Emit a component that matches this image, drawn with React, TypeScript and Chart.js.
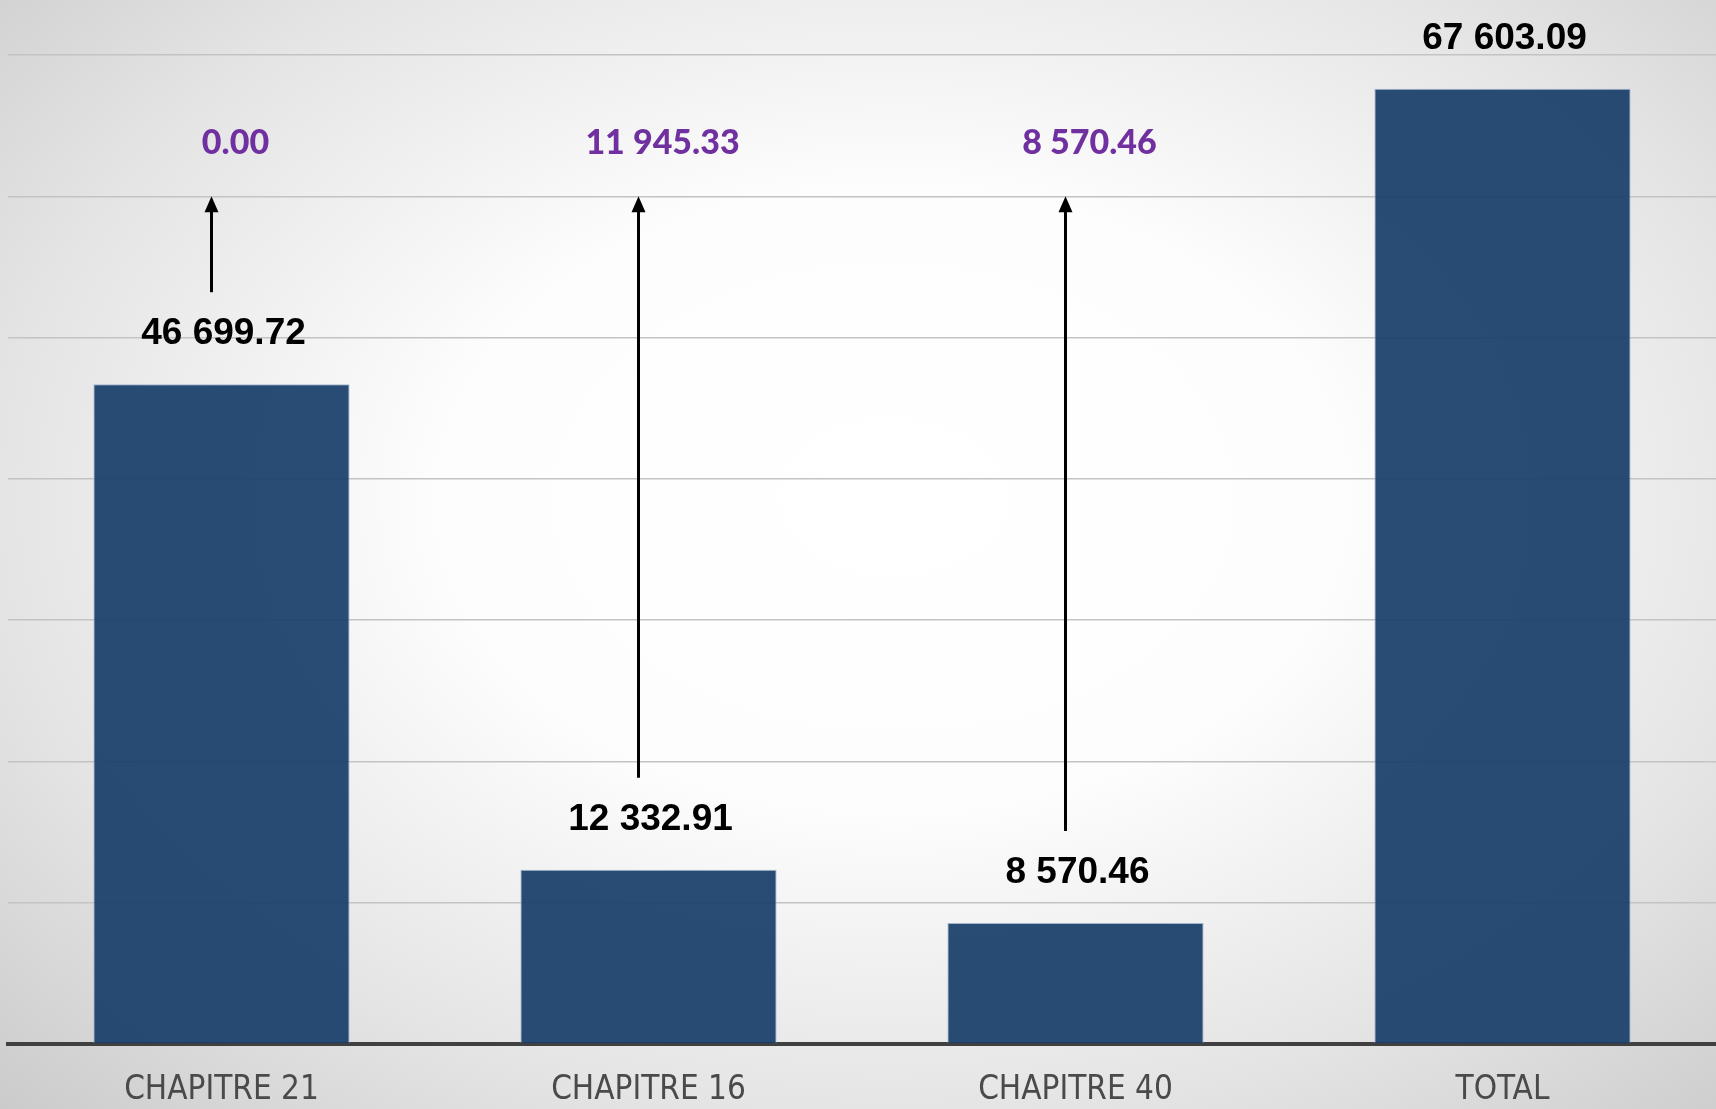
import React, { useEffect, useRef } from 'react';
import { Chart, registerables } from 'chart.js';

Chart.register(...registerables);

// ---- Data ----
const categories: string[] = ['CHAPITRE 21', 'CHAPITRE 16', 'CHAPITRE 40', 'TOTAL'];
const barValues: number[] = [46699.72, 12332.91, 8570.46, 67603.09];
const addedValues: (number | null)[] = [0.0, 11945.33, 8570.46, null];
const yTickValues: number[] = [0, 10000, 20000, 30000, 40000, 50000, 60000, 70000];

// arrow tips point at this value level; purple labels sit at this level
const ARROW_TOP_VALUE = 60000;
const ADDED_LABEL_VALUE = 63000;

function fmt(v: number): string {
  const [i, d] = v.toFixed(2).split('.');
  return i.replace(/\B(?=(\d{3})+(?!\d))/g, ' ') + '.' + d;
}

const annotatePlugin = {
  id: 'annotate',
  afterDatasetsDraw(chart: any) {
    const ctx = chart.ctx as CanvasRenderingContext2D;
    const meta = chart.getDatasetMeta(0);
    const yScale = chart.scales.y;
    ctx.save();
    meta.data.forEach((bar: any, i: number) => {
      const top = bar.y;
      ctx.textAlign = 'center';
      ctx.textBaseline = 'alphabetic';
      ctx.font = 'bold 37px "Liberation Sans", Arial, sans-serif';
      ctx.fillStyle = '#000000';
      ctx.fillText(fmt(barValues[i]), bar.x + 2, top - 40);

      const add = addedValues[i];
      if (add === null || add === undefined) return;
      const ax = bar.x - 10;
      const yTip = yScale.getPixelForValue(ARROW_TOP_VALUE);
      const yBot = top - 92;
      ctx.strokeStyle = '#000000';
      ctx.lineWidth = 3;
      ctx.beginPath();
      ctx.moveTo(ax, yBot);
      ctx.lineTo(ax, yTip + 12);
      ctx.stroke();
      ctx.beginPath();
      ctx.moveTo(ax, yTip);
      ctx.lineTo(ax - 7, yTip + 16);
      ctx.lineTo(ax + 7, yTip + 16);
      ctx.closePath();
      ctx.fill();

      ctx.font = '900 34px Lato, "Open Sans", sans-serif';
      ctx.fillStyle = '#7030a0';
      ctx.fillText(fmt(add), bar.x + 14, yScale.getPixelForValue(ADDED_LABEL_VALUE));
    });
    ctx.restore();
  },
};

export default function App() {
  const ref = useRef<HTMLCanvasElement | null>(null);

  useEffect(() => {
    if (!ref.current) return;
    const chart = new Chart(ref.current, {
      type: 'bar',
      data: {
        labels: categories,
        datasets: [
          {
            data: barValues,
            backgroundColor: 'rgba(25,62,107,0.93)',
            borderColor: 'rgba(150,172,200,0.85)',
            borderWidth: 1,
            barPercentage: 0.6,
            categoryPercentage: 1.0,
          },
        ],
      },
      options: {
        responsive: false,
        animation: false,
        layout: { padding: { left: 8, top: 55, right: 0, bottom: 0 } },
        plugins: {
          legend: { display: false },
          tooltip: { enabled: false },
        },
        scales: {
          x: {
            grid: { display: false, drawTicks: false },
            border: { display: true, color: '#404040', width: 4 },
            ticks: {
              color: '#4a4a4a',
              padding: 27,
              font: { family: '"Liberation Sans Narrow", "DejaVu Sans Condensed", Arial, sans-serif', size: 33 },
            },
            afterFit: (s: any) => {
              s.height = 65;
            },
          },
          y: {
            min: yTickValues[0],
            max: yTickValues[yTickValues.length - 1],
            afterBuildTicks: (s: any) => {
              s.ticks = yTickValues.map((v) => ({ value: v }));
            },
            ticks: { display: false },
            grid: { color: '#c3c3c3', lineWidth: 1.5, drawTicks: false },
            border: { display: false },
            afterFit: (s: any) => {
              s.width = 0;
            },
          },
        },
      },
      plugins: [annotatePlugin],
    });
    return () => chart.destroy();
  }, []);

  return (
    <div
      style={{
        position: 'absolute',
        left: 0,
        top: 0,
        width: 1716,
        height: 1109,
        background:
          'radial-gradient(ellipse 75% 80% at 52% 45%, #ffffff 0%, #fdfdfd 35%, #e4e4e4 70%, #c9c9c9 100%)',
      }}
    >
      <canvas ref={ref} width={1716} height={1109} style={{ display: 'block' }} />
    </div>
  );
}
